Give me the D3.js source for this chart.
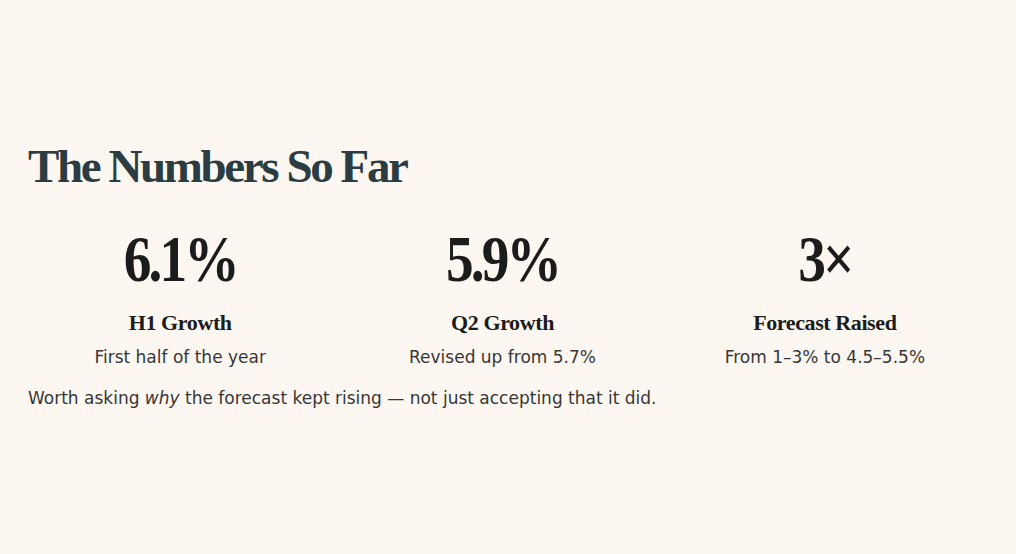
<!DOCTYPE html>
<html>
<head>
<meta charset="utf-8">
<script src="https://cdn.jsdelivr.net/npm/d3@7"></script>
<style>
  html, body { margin: 0; padding: 0; background: #fdf7f1; }
  svg { display: block; }
</style>
</head>
<body>
<svg id="chart" width="1016" height="554"></svg>
<script>
const title = "The Numbers So Far";
const categories = ["H1 Growth", "Q2 Growth", "Forecast Raised"];
const values = ["6.1%", "5.9%", "3×"];
const notes = ["First half of the year", "Revised up from 5.7%", "From 1–3% to 4.5–5.5%"];
const footerParts = [
  { text: "Worth asking ", italic: false },
  { text: "why", italic: true },
  { text: " the forecast kept rising — not just accepting that it did.", italic: false }
];

const W = 1016, H = 554;
const svg = d3.select("#chart");
svg.append("rect").attr("width", W).attr("height", H).attr("fill", "#fdf7f1");

const serif = "'Liberation Serif', 'DejaVu Serif', serif";
const sans = "'DejaVu Sans', 'Open Sans', sans-serif";

const x = d3.scaleBand().domain(categories).range([19, 986]).padding(0);

svg.append("text")
  .attr("x", 28).attr("y", 182)
  .attr("font-family", serif).attr("font-weight", 700)
  .attr("font-size", 47).attr("fill", "#2b3d42")
  .attr("letter-spacing", -2.4)
  .text(title);

const col = svg.selectAll("g.col").data(categories).join("g")
  .attr("class", "col")
  .attr("transform", d => `translate(${x(d) + x.bandwidth() / 2},0)`);

col.append("text")
  .attr("y", 281).attr("text-anchor", "middle")
  .attr("transform", "scale(0.84,1)")
  .attr("font-family", serif).attr("font-weight", 700)
  .attr("font-size", 66).attr("fill", "#1c1c1c")
  .attr("letter-spacing", -3.5)
  .text((d, i) => values[i]);

col.append("text")
  .attr("y", 330).attr("text-anchor", "middle")
  .attr("font-family", serif).attr("font-weight", 700)
  .attr("font-size", 22).attr("fill", "#1c1c1c")
  .attr("letter-spacing", -0.4)
  .text(d => d);

col.append("text")
  .attr("y", 363).attr("text-anchor", "middle")
  .attr("font-family", sans).attr("font-size", 17).attr("fill", "#363636")
  .text((d, i) => notes[i]);

const foot = svg.append("text")
  .attr("x", 28).attr("y", 404)
  .attr("font-family", sans).attr("font-size", 17).attr("fill", "#363636");
foot.selectAll("tspan").data(footerParts).join("tspan")
  .attr("font-style", d => d.italic ? "italic" : "normal")
  .text(d => d.text);
</script>
</body>
</html>
